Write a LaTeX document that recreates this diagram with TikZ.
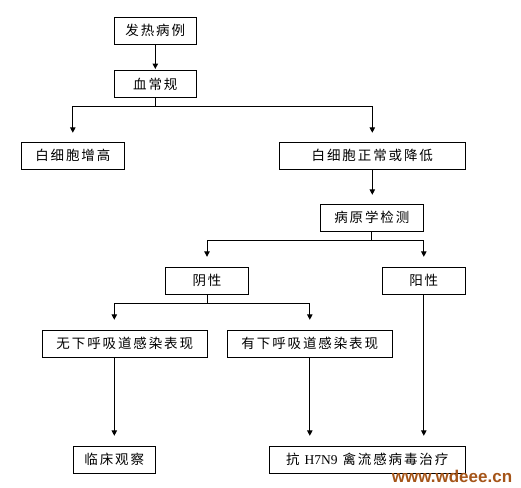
\documentclass[tikz,border=0pt]{standalone}
\usepackage{fontspec}
\usetikzlibrary{arrows.meta}
\newfontfamily\cjk[LetterSpace=14]{Noto Sans CJK SC}
\newfontfamily\latserif{Liberation Serif}
\newfontfamily\wmfont{Liberation Sans}
\definecolor{wmcol}{RGB}{165,85,25}
\begin{document}
\begin{tikzpicture}[x=1pt,y=-1pt,
  box/.style={draw,line width=1pt,minimum height=27pt,inner sep=0pt,
    font=\cjk\fontsize{13.5}{15}\selectfont},
  arr/.style={line width=1pt,-{Triangle[width=5.5pt,length=5.5pt]}},
  ln/.style={line width=1pt}]
\useasboundingbox (0,0) rectangle (521,487);
\node[box,minimum width=82pt]  (fr)   at (155.3,30.8)  {发热病例};
\node[box,minimum width=82pt]  (xcg)  at (155.3,84)    {血常规};
\node[box,minimum width=103pt] (bz)   at (72.8,155.8)  {白细胞增高};
\node[box,minimum width=186pt] (bd)   at (372.3,155.8) {白细胞正常或降低};
\node[box,minimum width=103pt] (by)   at (371.8,217.8) {病原学检测};
\node[box,minimum width=83pt]  (yin)  at (207,280.8)   {阴性};
\node[box,minimum width=83pt]  (yang) at (423.8,280.8) {阳性};
\node[box,minimum width=165pt] (wu)   at (124.8,343.8) {无下呼吸道感染表现};
\node[box,minimum width=165pt] (you)  at (309.8,343.8) {有下呼吸道感染表现};
\node[box,minimum width=82pt]  (lc)   at (114.3,459.8) {临床观察};
\node[box,minimum width=196pt] (kh)   at (367.3,459.8) {抗 {\latserif H7N9} 禽流感病毒治疗};
\coordinate (j1) at (155.3,106.3);
\coordinate (j2) at (371.8,240.3);
\coordinate (j3) at (207,303.3);
\draw[arr,shorten >=1pt] (fr.south) -- (xcg.north);
\draw[ln] (xcg.south) -- (j1);
\draw[arr,shorten >=9pt] (j1) -| (bz.north);
\draw[arr,shorten >=9pt] (j1) -| (bd.north);
\draw[arr,shorten >=9pt] (bd.south) -- (bd.south |- by.north);
\draw[ln] (by.south) -- (j2);
\draw[arr,shorten >=10pt] (j2) -| (yin.north);
\draw[arr,shorten >=10pt] (j2) -| (yang.north);
\draw[ln] (yin.south) -- (j3);
\draw[arr,shorten >=10pt] (j3) -| (lc.north |- wu.north);
\draw[arr,shorten >=10pt] (j3) -| (you.north);
\draw[arr,shorten >=10pt] (lc.north |- wu.south) -- (lc.north);
\draw[arr,shorten >=10pt] (you.south) -- (you.south |- kh.north);
\draw[arr,shorten >=10pt] (yang.south) -- (yang.south |- kh.north);
\node[font=\wmfont\bfseries\fontsize{17}{17}\selectfont,text=wmcol,inner sep=0pt] (wm) at (452,476.5) {www.wdeee.cn};
\end{tikzpicture}
\end{document}
